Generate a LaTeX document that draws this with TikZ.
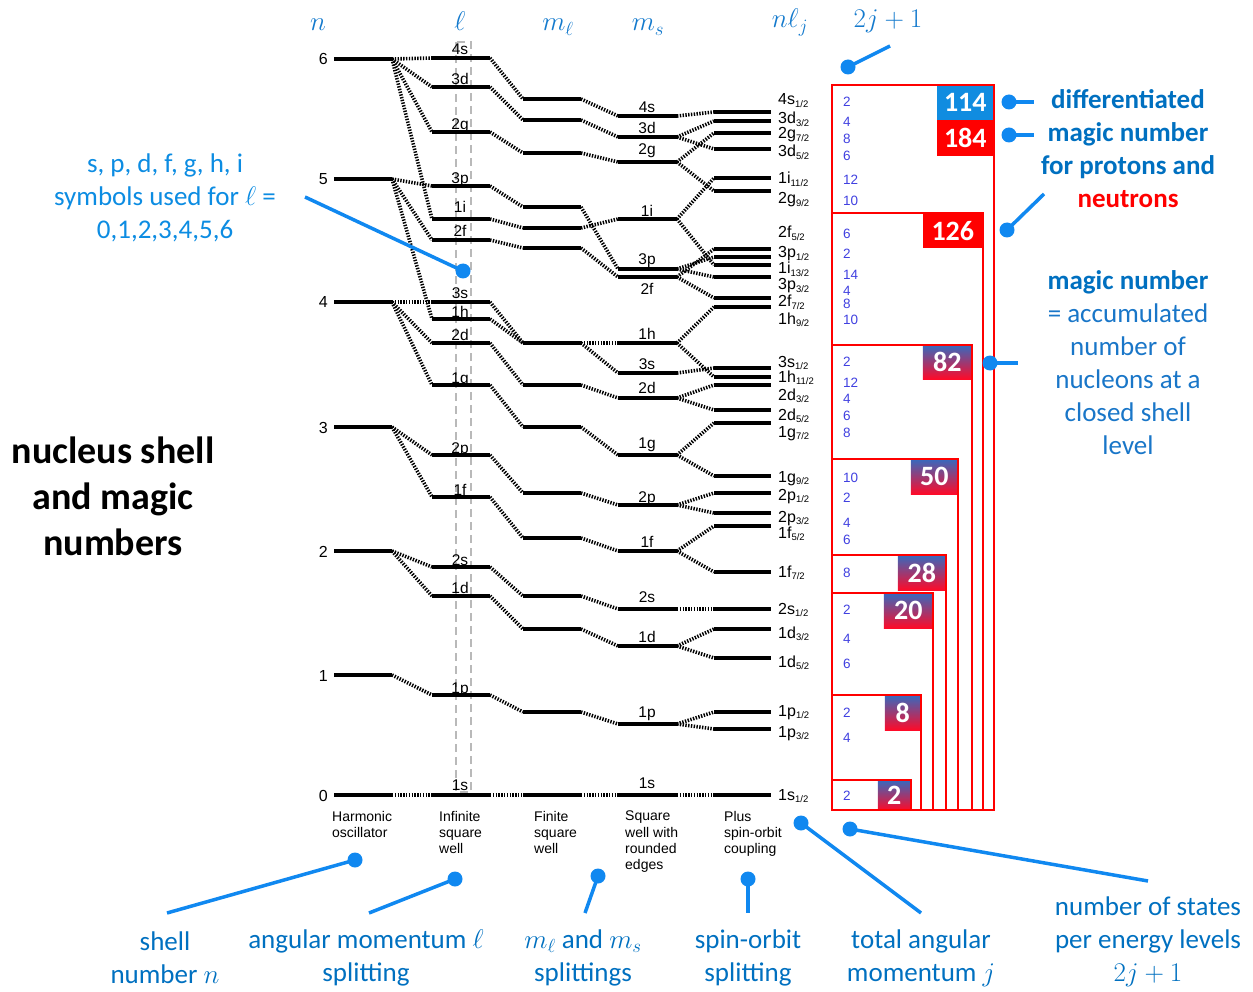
\documentclass[tikz,border=0pt]{standalone}
\usepackage{fix-cm}
\usepackage[no-math]{fontspec}
\setmainfont{Carlito}
\newfontfamily\arialf{Liberation Sans}
\definecolor{annblue}{RGB}{16,136,240}
\definecolor{txtblue}{RGB}{0,112,192}
\definecolor{rtxtblue}{RGB}{25,118,200}
\definecolor{lblue}{RGB}{12,140,226}
\definecolor{hdrblue}{RGB}{20,122,205}
\definecolor{numblue}{RGB}{64,64,224}
\definecolor{boxblue}{RGB}{16,140,224}
\definecolor{gradtop}{RGB}{55,105,190}
\definecolor{gradbot}{RGB}{255,10,40}
\newcommand\lsub[1]{\raisebox{-2.5pt}{\fontsize{9.5}{10}\selectfont #1}}
\begin{document}
\begin{tikzpicture}[x=1pt,y=-1pt,
  level/.style={line width=4pt},
  conn/.style={line width=3.6pt, dash pattern=on 1.4pt off 1.4pt},
  nlab/.style={font=\arialf\fontsize{16}{18}\selectfont, anchor=base east, inner sep=0pt},
  slab/.style={font=\arialf\fontsize{15.5}{18}\selectfont, anchor=base, inner sep=0pt},
  jlab/.style={font=\arialf\fontsize{16}{18}\selectfont, anchor=base west, inner sep=0pt},
  ctitle/.style={font=\arialf\fontsize{14}{16.3}\selectfont, align=left, anchor=north west, inner sep=0pt},
  dnum/.style={font=\arialf\fontsize{13.5}{14}\selectfont, text=numblue, anchor=west, inner sep=0pt},
  magic/.style={font=\bfseries\fontsize{28}{30}\selectfont, text=white, inner sep=0pt, anchor=north east},
  redbox/.style={draw=red, line width=2pt},
  hdr/.style={text=hdrblue, font=\fontsize{27}{30}\selectfont, anchor=base, inner sep=0pt},
  btext/.style={font=\fontsize{27}{33}\selectfont, text=txtblue, align=center, inner sep=0pt},
  dot/.style={circle, fill=annblue, minimum size=15pt, inner sep=0pt},
  ann/.style={draw=annblue, line width=3.5pt}
]
\useasboundingbox (0,0) rectangle (1253,992);

% dashed frame around the l column
\draw[gray!55, line width=1.8pt, dash pattern=on 8pt off 5pt] (456,42) rectangle (471,792);

% column 1: harmonic oscillator
\foreach \n/\y in {6/59,5/179,4/302,3/427,2/551,1/675,0/795}{
  \coordinate (a\n-l) at (334,\y); \coordinate (a\n-r) at (392,\y);
  \draw[level] (a\n-l) -- (a\n-r);
  \node[nlab] (an\n) at (328,\y+6) {\n};
}
% column 2: infinite square well
\foreach \m/\y/\ly in {4s/58/55,3d/87/85,2g/132/130,3p/186/184,1i/219/213,2f/240/237,3s/302/299,1h/319/317,2d/343/341,1g/385/383,2p/455/453,1f/497/495,2s/567/565,1d/596/593,1p/695/693,1s/795/790}{
  \coordinate (b\m-l) at (432,\y); \coordinate (b\m-r) at (490,\y);
  \draw[level] (b\m-l) -- (b\m-r);
  \node[slab] (bt\m) at (460,\ly) {\m};
}
% column 3: finite square well
\foreach \m/\y in {4s/99,3d/120,2g/153,3p/207,1i/228,2f/248,3s/343,1h/343,2d/385,1g/427,2p/493,1f/538,2s/596,1d/629,1p/712,1s/795}{
  \coordinate (c\m-l) at (523,\y); \coordinate (c\m-r) at (581,\y);
  \draw[level] (c\m-l) -- (c\m-r);
}
% column 4: rounded square well
\foreach \m/\y/\ly in {4s/116/113,3d/137/134,2g/162/155,1i/219/217,3p/269/265,2f/277/295,1h/343/340,3s/373/370,2d/398/393,1g/455/448,2p/505/502,1f/551/547,2s/609/602,1d/646/642,1p/724/717,1s/795/788}{
  \coordinate (d\m-l) at (618,\y); \coordinate (d\m-r) at (677,\y);
  \draw[level] (d\m-l) -- (d\m-r);
  \node[slab] (dt\m) at (647,\ly) {\m};
}
% column 5: spin-orbit
\foreach \m/\y/\ly/\main/\num in {4s12/112/99/4s/1,3d32/121/118/3d/3,2g72/133/133/2g/7,3d52/149/151/3d/5,1i112/178/178/1i/11,2g92/191/198/2g/9,2f52/249/232/2f/5,3p12/257/252/3p/1,1i132/265/268/1i/13,3p32/277/284/3p/3,2f72/298/301/2f/7,1h92/307/318/1h/9,3s12/368/361/3s/1,1h112/377/376/1h/11,2d32/385/394/2d/3,2d52/410/414/2d/5,1g72/423/431/1g/7,1g92/476/476/1g/9,2p12/493/494/2p/1,2p32/513/516/2p/3,1f52/526/532/1f/5,1f72/572/571/1f/7,2s12/609/608/2s/1,1d32/629/632/1d/3,1d52/658/661/1d/5,1p12/712/710/1p/1,1p32/729/731/1p/3,1s12/795/794/1s/1}{
  \coordinate (e\m-l) at (714,\y); \coordinate (e\m-r) at (771,\y);
  \draw[level] (e\m-l) -- (e\m-r);
  \node[jlab] (et\m) at (778,\ly+6) {\main\lsub{\num/2}};
}

% connectors
\foreach \a/\b in {6/4s,6/3d,6/2g,6/1i,5/3p,5/2f,5/1h,4/3s,4/2d,4/1g,3/2p,3/1f,2/2s,2/1d,1/1p,0/1s}
  \draw[conn] (a\a-r) -- (b\b-l);
\foreach \m in {4s,3d,2g,3p,1i,2f,3s,1h,2d,1g,2p,1f,2s,1d,1p,1s}{
  \draw[conn] (b\m-r) -- (c\m-l);
  \draw[conn] (c\m-r) -- (d\m-l);
}
\foreach \a/\b in {4s/4s12,3d/3d32,3d/3d52,2g/2g72,2g/2g92,1i/1i112,1i/1i132,3p/3p12,3p/3p32,2f/2f52,2f/2f72,1h/1h92,1h/1h112,3s/3s12,2d/2d32,2d/2d52,1g/1g72,1g/1g92,2p/2p12,2p/2p32,1f/1f52,1f/1f72,2s/2s12,1d/1d32,1d/1d52,1p/1p12,1p/1p32,1s/1s12}
  \draw[conn] (d\a-r) -- (e\b-l);

% column titles
\node[ctitle] (t1) at (332,811) {Harmonic\\oscillator};
\node[ctitle] (t2) at (439,811) {Infinite\\square\\well};
\node[ctitle] (t3) at (534,811) {Finite\\square\\well};
\node[ctitle] (t4) at (625,811) {Square\\well with\\rounded\\edges};
\node[ctitle] (t5) at (724,811) {Plus\\spin-orbit\\coupling};

% headers
\node[hdr] (hn) at (318,31) {$n$};
\node[hdr] (hl) at (460,31) {$\ell$};
\node[hdr] (hml) at (558,31) {$m_\ell$};
\node[hdr] (hms) at (648,31) {$m_s$};
\node[hdr] (hnl) at (790,28) {$n\ell_j$};
\node[hdr] (hj) at (888,28) {$2j+1$};

% magic number boxes
\node[magic, fill=boxblue, minimum width=57pt, minimum height=35pt] (m114) at (994,85) {114};
\node[magic, fill=red, minimum width=57pt, minimum height=36pt] (m184) at (994,120) {184};
\node[magic, fill=red, minimum width=60pt, minimum height=35pt] (m126) at (983,213) {126};
\node[magic, top color=gradtop, bottom color=gradbot, minimum width=49pt, minimum height=34pt] (m82) at (972,345) {82};
\node[magic, top color=gradtop, bottom color=gradbot, minimum width=47pt, minimum height=35pt] (m50) at (958,459) {50};
\node[magic, top color=gradtop, bottom color=gradbot, minimum width=48pt, minimum height=35pt] (m28) at (946,555) {28};
\node[magic, top color=gradtop, bottom color=gradbot, minimum width=49pt, minimum height=35pt] (m20) at (933,593) {20};
\node[magic, top color=gradtop, bottom color=gradbot, minimum width=36pt, minimum height=35pt] (m8) at (921,695) {8};
\node[magic, top color=gradtop, bottom color=gradbot, minimum width=33pt, minimum height=30pt] (m2) at (911,780) {2};

\foreach \t/\r in {85/994,213/983,345/972,459/958,555/946,593/933,695/921,780/911}
  \draw[redbox] (832,\t) rectangle (\r,810);

% 2j+1 numbers
\foreach \v/\y [count=\i] in {2/102,4/122,8/139,6/156,12/180,10/201,6/234,2/254,14/275,4/291,8/304,10/320,2/362,12/383,4/399,6/416,8/433,10/478,2/498,4/523,6/540,8/573,2/610,4/639,6/664,2/713,4/738,2/796}
  \node[dnum] (dn\i) at (843,\y) {\v};

% texts
\node[font=\bfseries\fontsize{38}{46}\selectfont, align=center, inner sep=0pt] (title) at (113,496) {nucleus shell\\and magic\\numbers};
\node[btext, text=lblue] (spd) at (165,198) {s, p, d, f, g, h, i\\symbols used for $\ell$ =\\0,1,2,3,4,5,6};
\node[btext, font=\bfseries\fontsize{27}{33}\selectfont] (diff) at (1128,149) {differentiated\\magic number\\for protons and\\\textcolor{red}{neutrons}};
\node[btext, text=rtxtblue] (acc) at (1128,363) {\textbf{\color{txtblue}magic number}\\= accumulated\\number of\\nucleons at a\\closed shell\\level};
\node[btext] (bl1) at (165,958) {shell\\number $n$};
\node[btext] (bl2) at (366,958) {angular momentum $\ell$\\splitting};
\node[btext] (bl3) at (583,958) {$m_\ell$ and $m_s$\\splittings};
\node[btext] (bl4) at (748,958) {spin-orbit\\splitting};
\node[btext] (bl5) at (921,958) {total angular\\momentum $j$};
\node[btext] (bl6) at (1148,942) {number of states\\per energy levels\\$2j+1$};

% annotation pointers
\foreach \i/\px/\py/\qx/\qy in {1/848/67/890/46, 2/1009/102/1034/102, 3/1009/135/1034/135, 4/1007/230/1044/194, 5/990/363/1018/363, 6/463/271/305/197, 7/355/860/167/913, 8/455/879/369/913, 9/598/876/585/913, 10/748/879/748/913, 11/801/823/921/913, 12/850/829/1148/881}{
  \coordinate (p\i) at (\px,\py);
  \coordinate (q\i) at (\qx,\qy);
  \draw[ann] (p\i) -- (q\i);
  \node[dot] (pd\i) at (p\i) {};
}
\end{tikzpicture}
\end{document}
